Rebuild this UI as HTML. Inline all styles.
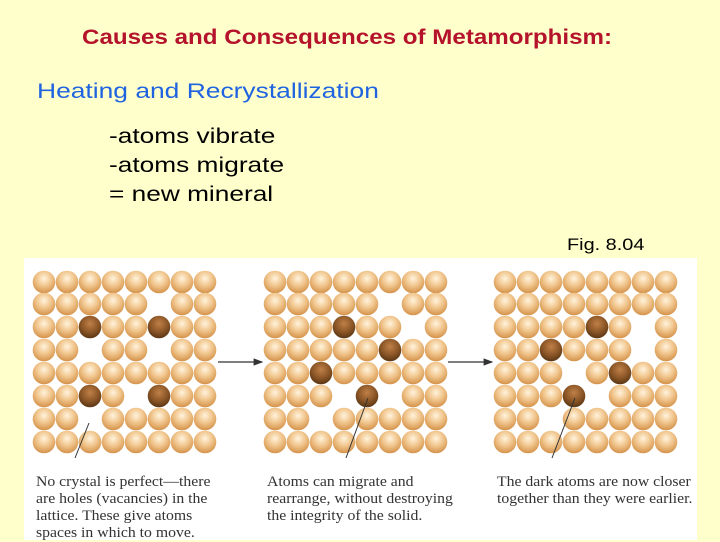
<!DOCTYPE html>
<html><head><style>
body{margin:0;width:720px;height:540px;background:#ffffcc;position:relative;overflow:hidden;font-family:"Liberation Sans",Arial,sans-serif}
.t{position:absolute;white-space:nowrap;transform-origin:left top}
.cap{position:absolute;font-family:"Liberation Serif",serif;font-size:15px;line-height:17px;color:#333;white-space:nowrap;transform:scaleX(1.05);transform-origin:left top}
</style></head><body>
<div class="t" style="left:82px;top:26px;font-size:21px;font-weight:bold;color:#b5122c;transform:scaleX(1.15)">Causes and Consequences of Metamorphism:</div>
<div class="t" style="left:37px;top:80px;font-size:21px;color:#1f63e0;transform:scaleX(1.257)">Heating and Recrystallization</div>
<div class="t" style="left:109px;top:122px;font-size:21px;line-height:29px;color:#000;transform:scaleX(1.25)">-atoms vibrate<br>-atoms migrate<br>= new mineral</div>
<div class="t" style="left:567px;top:235px;font-size:17px;color:#000;transform:scaleX(1.17)">Fig. 8.04</div>
<svg style="position:absolute;left:0;top:0" width="720" height="540">
<defs>
<radialGradient id="l" cx="0.5" cy="0.35" r="0.65"><stop offset="0" stop-color="#fff3dc"/><stop offset="0.5" stop-color="#f1c68e"/><stop offset="1" stop-color="#d4924a"/></radialGradient>
<radialGradient id="d" cx="0.5" cy="0.35" r="0.65"><stop offset="0" stop-color="#c08048"/><stop offset="0.6" stop-color="#8a5526"/><stop offset="1" stop-color="#5a3614"/></radialGradient>
<marker id="a" markerWidth="8" markerHeight="8" refX="7" refY="4" orient="auto"><path d="M0,1 L8,4 L0,7z" fill="#333"/></marker>
</defs>
<rect x="24" y="258" width="673" height="282" fill="#fff"/>
<g id="atoms"></g>
<line x1="218" y1="362" x2="262" y2="362" stroke="#333" stroke-width="1.2" marker-end="url(#a)"/>
<line x1="448" y1="362" x2="492" y2="362" stroke="#333" stroke-width="1.2" marker-end="url(#a)"/>
<line x1="89" y1="423" x2="75" y2="458" stroke="#333" stroke-width="1"/>
<line x1="368" y1="398" x2="346" y2="458" stroke="#333" stroke-width="1"/>
<line x1="575" y1="398" x2="552" y2="458" stroke="#333" stroke-width="1"/>
</svg>
<div class="cap" style="left:36px;top:474px">No crystal is perfect—there<br>are holes (vacancies) in the<br>lattice. These give atoms<br>spaces in which to move.</div>
<div class="cap" style="left:267px;top:474px">Atoms can migrate and<br>rearrange, without destroying<br>the integrity of the solid.</div>
<div class="cap" style="left:497px;top:474px">The dark atoms are now closer<br>together than they were earlier.</div>
<script>
var grids=[
[44,["........","....._..","..D..D..",".._.._..","........","..D._D..",".._.....","........"]],
[275,["........","....._..","...D.._.",".....D..","..D.....","..._D_..",".._.....","........"]],
[505,["........","........","....D._.","..D..._.","..._.D..","...D_...",".._.....","........"]]];
var ys=[282,304,327,350,373,396,419,442],s='';
grids.forEach(function(g){var x0=g[0];g[1].forEach(function(r,ri){for(var c=0;c<8;c++){var ch=r[c];if(ch=='_')continue;s+='<circle cx="'+(x0+c*23)+'" cy="'+ys[ri]+'" r="11.3" fill="url(#'+(ch=='D'?'d':'l')+')"/>';}});});
document.getElementById('atoms').innerHTML=s;
</script>
</body></html>
